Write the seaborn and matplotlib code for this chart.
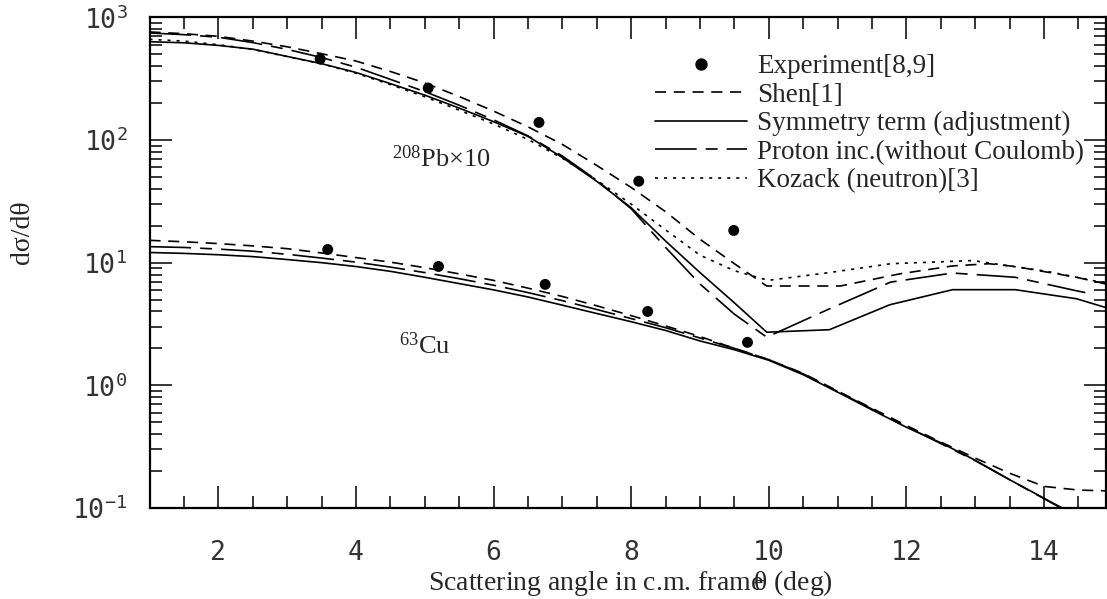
import matplotlib
matplotlib.use("Agg")
import matplotlib.pyplot as plt
import seaborn as sns
from matplotlib.lines import Line2D
from matplotlib.ticker import MultipleLocator, LogLocator, NullFormatter

# ---- experimental points -------------------------------------------------
exp_pb_theta = [3.48, 5.05, 6.66, 8.11, 9.49]
exp_pb_xs = [457, 265, 139, 46.1, 18.3]
exp_cu_theta = [3.59, 5.20, 6.75, 8.24, 9.69]
exp_cu_xs = [12.8, 9.31, 6.65, 4.0, 2.24]

# ---- 208Pb (x10) calculations ----------------------------------------------
fwd_theta = [1.0, 1.5, 2.0, 2.5, 3.0, 3.5, 4.0, 4.5, 5.0, 5.5, 6.0, 6.5,
             7.0, 7.5, 8.0, 8.5, 9.0, 9.5]

pb_sym_theta = fwd_theta + [9.97, 10.88, 11.76, 12.67, 13.58, 14.47, 14.9]
pb_sym_xs = [632, 620, 590, 550, 480, 419, 355, 288, 232, 182, 141, 107,
             72, 46, 28, 15, 8.3, 4.7,
             2.71, 2.84, 4.54, 6.02, 6.02, 5.08, 4.3]

pb_shen_theta = fwd_theta + [9.97, 11.04, 11.9, 12.67, 13.2, 13.58, 14.47, 14.9]
pb_shen_xs = [760, 735, 700, 640, 575, 505, 440, 362, 292, 226, 172, 128,
              92, 62, 41, 26, 15.5, 9.8,
              6.45, 6.45, 8.1, 9.4, 9.8, 9.3, 7.6, 6.7]

pb_prot_theta = fwd_theta + [9.97, 10.88, 11.77, 12.67, 13.58, 14.47, 14.6]
pb_prot_xs = [745, 722, 688, 622, 548, 470, 392, 312, 248, 192, 146, 108,
              74, 47, 27.5, 13.3, 6.7, 3.8,
              2.47, 4.2, 6.94, 8.23, 7.6, 5.9, 5.7]

pb_koz_theta = fwd_theta + [9.99, 10.88, 11.77, 12.96, 14.04, 14.9]
pb_koz_xs = [661, 640, 598, 548, 478, 418, 350, 283, 225, 175, 135, 101,
             71, 47, 30, 18.5, 11.5, 8.6,
             7.17, 8.3, 9.8, 10.4, 8.5, 6.8]

# ---- 63Cu calculations -------------------------------------------------------
cu_theta = [1.0, 1.5, 2.0, 2.5, 3.0, 3.5, 4.0, 4.5, 5.0, 5.5, 6.0, 6.5,
            7.0, 7.5, 8.0, 8.5, 9.0, 9.5, 10.0, 10.5, 11.0, 11.5, 12.0,
            12.5, 13.0, 13.5, 14.0, 14.5]
cu_sym_xs = [12.1, 11.9, 11.6, 11.2, 10.6, 10.0, 9.3, 8.5, 7.6, 6.75, 6.0,
             5.25, 4.5, 3.85, 3.3, 2.8, 2.3, 1.95, 1.6, 1.22, 0.88, 0.63,
             0.455, 0.34, 0.245, 0.17, 0.12, 0.085]
cu_prot_xs = [13.5, 13.3, 12.9, 12.4, 11.7, 10.9, 10.1, 9.2, 8.3, 7.4, 6.55,
              5.7, 4.9, 4.15, 3.5, 2.95, 2.43, 2.0, 1.62, 1.24, 0.89, 0.64,
              0.46, 0.335, 0.243, 0.17, 0.119, 0.083]
cu_shen_theta = cu_theta + [14.9]
cu_shen_xs = [15.2, 14.8, 14.3, 13.7, 13.0, 12.0, 11.0, 10.1, 9.1, 8.1, 7.17,
              6.2, 5.3, 4.45, 3.7, 3.05, 2.5, 2.0, 1.62, 1.25, 0.9, 0.65,
              0.47, 0.345, 0.255, 0.192, 0.15, 0.14, 0.138]

legend_labels = ["Experiment[8,9]", "Shen[1]", "Symmetry term (adjustment)",
                 "Proton inc.(without Coulomb)", "Kozack (neutron)[3]"]

# ---- styling -------------------------------------------------------------------
sns.set_style("ticks")
plt.rcParams["font.family"] = ["Liberation Serif", "DejaVu Serif"]
plt.rcParams["lines.scale_dashes"] = False

LW = 1.2
SHEN = (0, (8, 5.5))
PROT = (0, (30, 6.5, 8.6, 6.5))
KOZ = (0, (2.2, 4.3))
SOLID = "-"

fig = plt.figure(figsize=(11.07, 5.99), dpi=100)
ax = fig.add_axes([149.5 / 1107, 91 / 599, (1106 - 149.5) / 1107, 490.7 / 599])
ax.set_yscale("log")

curves = [
    (pb_shen_theta, pb_shen_xs, SHEN),
    (pb_sym_theta, pb_sym_xs, SOLID),
    (pb_prot_theta, pb_prot_xs, PROT),
    (pb_koz_theta, pb_koz_xs, KOZ),
    (cu_shen_theta, cu_shen_xs, SHEN),
    (cu_theta, cu_sym_xs, SOLID),
    (cu_theta, cu_prot_xs, PROT),
]
for xs, ys, ls in curves:
    sns.lineplot(x=xs, y=ys, ax=ax, color="black", lw=LW, linestyle=ls,
                 sort=False, legend=False)

for xs, ys in [(exp_pb_theta, exp_pb_xs), (exp_cu_theta, exp_cu_xs)]:
    sns.scatterplot(x=xs, y=ys, ax=ax, color="black", s=62, edgecolor="none",
                    legend=False, zorder=5)

ax.set_xlim(1.0, 14.9)
ax.set_ylim(0.1, 1000)

ax.xaxis.set_major_locator(MultipleLocator(2))
ax.xaxis.set_minor_locator(MultipleLocator(0.5))
ax.yaxis.set_major_locator(LogLocator(base=10))
ax.yaxis.set_minor_locator(LogLocator(base=10, subs=range(2, 10)))
ax.yaxis.set_minor_formatter(NullFormatter())

ax.tick_params(which="both", direction="in", top=True, right=True,
               color="black", labelsize=19, labelcolor="#333333")
ax.tick_params(which="major", length=16, width=1.1)
ax.tick_params(which="minor", length=8.5, width=1.1)
ax.tick_params(axis="x", which="major", pad=23)
ax.tick_params(axis="y", which="major", pad=16)
for sp in ax.spines.values():
    sp.set_linewidth(1.6)
    sp.set_color("black")

ax.set_xlabel("")
ax.set_ylabel("")

fig.text(22 / 1107, 1 - 232 / 599, "dσ/dθ", rotation=90, ha="center",
         va="center", fontsize=20)
fig.text(630 / 1107, 1 - 590 / 599,
         r"Scattering angle in c.m. frame$\mathregular{\!\!\theta}$ (deg)",
         ha="center", va="baseline", fontsize=20)

ax.text(4.52, 60, r"$\mathregular{^{208}}$Pb×10", fontsize=19,
        ha="left", va="baseline")
ax.text(4.63, 1.82, r"$\mathregular{^{63}}$Cu", fontsize=19,
        ha="left", va="baseline")

handles = [
    Line2D([], [], marker="o", ls="none", color="black", ms=7.9),
    Line2D([], [], color="black", lw=LW, ls=SHEN),
    Line2D([], [], color="black", lw=LW, ls=SOLID),
    Line2D([], [], color="black", lw=LW, ls=PROT),
    Line2D([], [], color="black", lw=LW, ls=KOZ),
]
ax.legend(handles, legend_labels, loc="upper left",
          bbox_to_anchor=(655 / 1107, 1 - 54 / 599),
          bbox_transform=fig.transFigure, frameon=False, fontsize=19.5,
          handlelength=3.4, handletextpad=0.37, borderpad=0,
          borderaxespad=0, labelspacing=0.13)

fig.canvas.draw()
for t in ax.xaxis.get_major_ticks() + ax.yaxis.get_major_ticks():
    t.label1.set_fontfamily("DejaVu Sans Mono")

fig.savefig("out.png", dpi=100)
